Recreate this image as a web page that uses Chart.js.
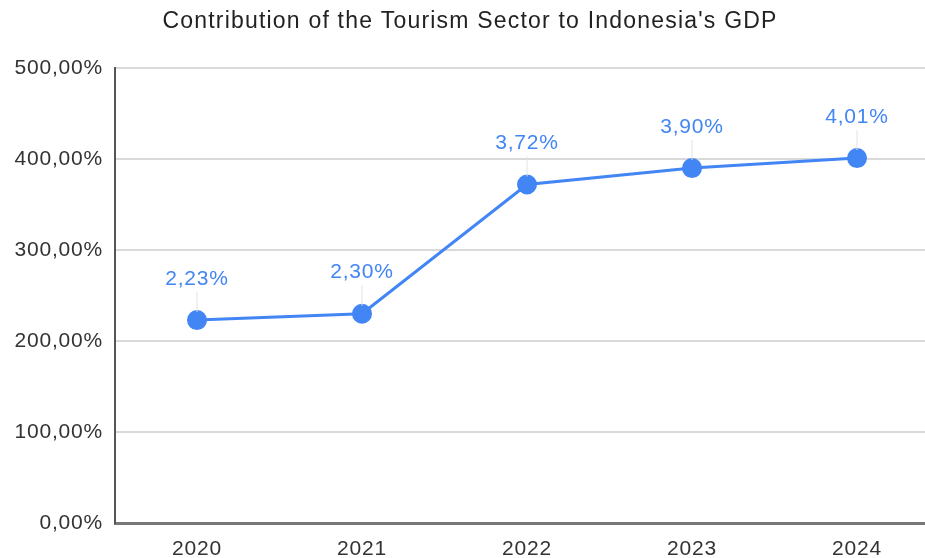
<!DOCTYPE html>
<html>
<head>
<meta charset="utf-8">
<script src="https://cdn.jsdelivr.net/npm/chart.js@4"></script>
<style>
  html, body { margin: 0; padding: 0; background: #fff; }
  #wrap { width: 925px; height: 558px; }
</style>
</head>
<body>
<div id="wrap"><canvas id="grafico"></canvas></div>
<script>
// dados
const anos = [2020, 2021, 2022, 2023, 2024];
const contribuicao = [2.23, 2.30, 3.72, 3.90, 4.01];
const yTicks = [0, 1, 2, 3, 4, 5];
const titulo = "Contribution of the Tourism Sector to Indonesia's GDP";

const AZUL = '#4285f4';
const FONTE = "'Liberation Sans', Arial, sans-serif";
const ESPACO = '0.8px';

const fmtPct = (v, casas) => (v * 100).toFixed(casas).replace('.', ',') + '%';

// a fonte da referência é um pouco mais larga: leve espaçamento entre letras
const espacamento = {
  id: 'espacamento',
  beforeUpdate(chart) { chart.ctx.letterSpacing = ESPACO; },
  beforeDraw(chart) { chart.ctx.letterSpacing = ESPACO; }
};

// título e rótulos acima de cada ponto, com linha guia fina
const rotulos = {
  id: 'rotulos',
  afterDatasetsDraw(chart) {
    const ctx = chart.ctx;
    const meta = chart.getDatasetMeta(0);
    ctx.save();
    ctx.textAlign = 'center';
    ctx.textBaseline = 'middle';

    ctx.letterSpacing = '1.2px';
    ctx.font = '23px ' + FONTE;
    ctx.fillStyle = '#222';
    ctx.fillText(titulo, 470, 22);

    ctx.letterSpacing = ESPACO;
    ctx.font = '21px ' + FONTE;
    meta.data.forEach((p, i) => {
      const ty = p.y - 41;
      ctx.strokeStyle = '#e3e3e3';
      ctx.lineWidth = 1;
      ctx.beginPath();
      ctx.moveTo(p.x, ty + 13);
      ctx.lineTo(p.x, p.y - 8);
      ctx.stroke();
      ctx.fillStyle = AZUL;
      ctx.fillText(contribuicao[i].toFixed(2).replace('.', ',') + '%', p.x, ty);
    });
    ctx.restore();
  }
};

new Chart(document.getElementById('grafico'), {
  type: 'line',
  plugins: [espacamento, rotulos],
  data: {
    datasets: [{
      data: anos.map((a, i) => ({ x: a, y: contribuicao[i] })),
      borderColor: AZUL,
      backgroundColor: AZUL,
      borderWidth: 3,
      pointRadius: 8.5,
      pointHoverRadius: 8.5,
      tension: 0
    }]
  },
  options: {
    responsive: true, maintainAspectRatio: false, animation: false,
    layout: { autoPadding: false, padding: { left: 0, right: 0, bottom: 0, top: 68 } },
    plugins: {
      legend: { display: false },
      tooltip: { enabled: false },
      title: { display: false }
    },
    scales: {
      x: {
        type: 'linear',
        min: 2019.503, max: 2024.412,
        afterBuildTicks: s => { s.ticks = anos.map(a => ({ value: a })); },
        afterFit: s => { s.height = 35; s.paddingLeft = 0; s.paddingRight = 0; },
        grid: { display: false },
        border: { display: true, color: '#777', width: 3 },
        ticks: {
          color: '#333', padding: 6,
          font: { family: FONTE, size: 21 },
          callback: v => String(v)
        }
      },
      y: {
        min: 0, max: 5,
        afterBuildTicks: s => { s.ticks = yTicks.map(v => ({ value: v })); },
        afterFit: s => { s.width = 115; },
        grid: { color: '#d9d9d9', lineWidth: 2, drawTicks: false },
        border: { display: true, color: '#555', width: 2 },
        ticks: {
          color: '#333', padding: 12,
          font: { family: FONTE, size: 21 },
          callback: v => fmtPct(v, 2)
        }
      }
    }
  }
});
</script>
</body>
</html>
